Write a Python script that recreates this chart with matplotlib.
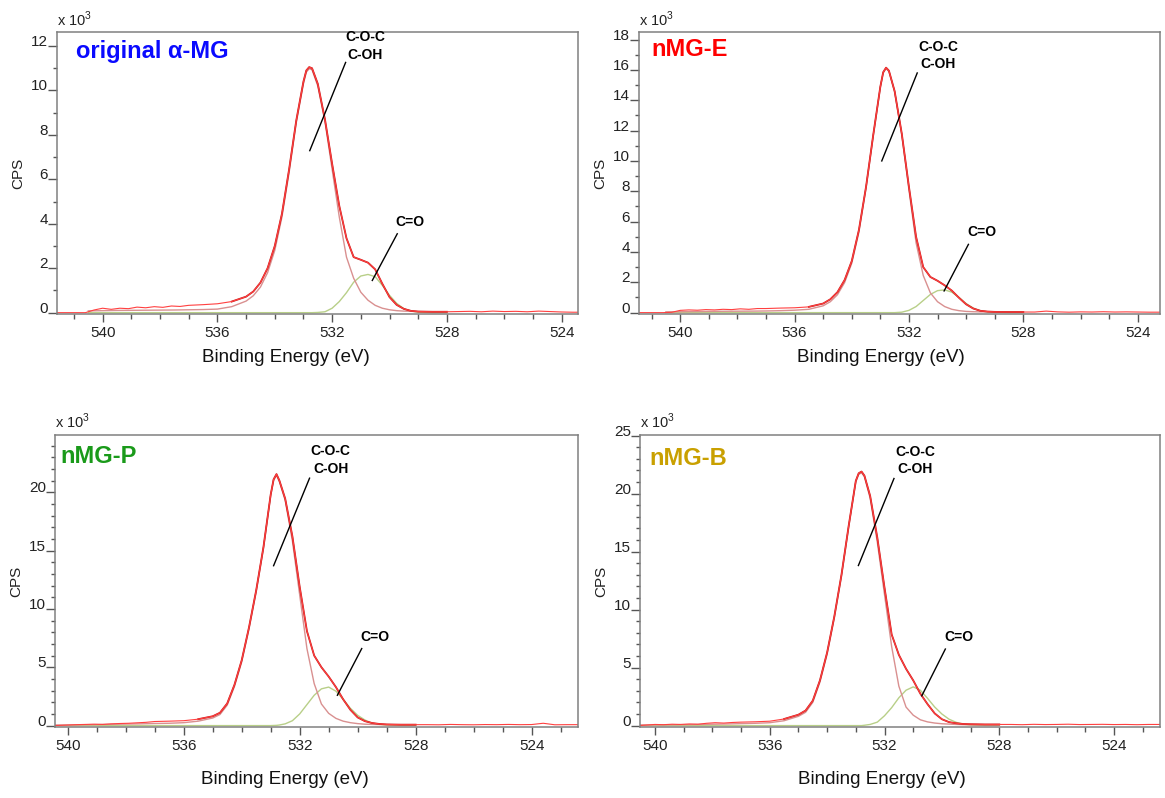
import numpy as np
import matplotlib.pyplot as plt
from matplotlib.ticker import MultipleLocator

plt.rcParams['font.family'] = ['Liberation Sans', 'DejaVu Sans']
plt.rcParams['mathtext.fontset'] = 'custom'
plt.rcParams['mathtext.rm'] = 'Liberation Sans'

# binding energy grid of the peak fit (eV)
fit_be = [540.5, 539.5, 538.5, 537.5, 537.0, 536.5, 536.0, 535.5, 535.0, 534.75,
          534.5, 534.25, 534.0, 533.75, 533.5, 533.25, 533.0, 532.9, 532.8, 532.7,
          532.5, 532.25, 532.0, 531.75, 531.5, 531.25, 531.0, 530.75, 530.5, 530.25,
          530.0, 529.75, 529.5, 529.25, 529.0, 528.5, 528.0]
# raw data outside the fit region
raw_left_be = [541.6, 540.6, 540.3, 540.0, 539.7, 539.4, 539.1, 538.8, 538.5, 538.2, 537.9, 537.6, 537.3]
raw_right_be = [527.6, 527.2, 526.8, 526.4, 526.0, 525.6, 525.2, 524.8, 524.4, 524.0, 523.6, 523.2, 522.8, 522.4]

# original a-MG (CPS x 10^3)
orig_env = [0.12, 0.18, 0.23, 0.30, 0.33, 0.36, 0.40, 0.50, 0.72, 0.95,
            1.35, 2.0, 3.0, 4.45, 6.45, 8.65, 10.4, 10.9, 11.05, 11.0,
            10.3, 8.7, 6.7, 4.8, 3.35, 2.5, 2.38, 2.25, 1.95, 1.3,
            0.7, 0.35, 0.17, 0.08, 0.05, 0.04, 0.04]
orig_coc = [0.08, 0.10, 0.11, 0.12, 0.13, 0.14, 0.16, 0.27, 0.52, 0.76,
            1.15, 1.8, 2.8, 4.3, 6.3, 8.55, 10.3, 10.82, 10.98, 10.93,
            10.2, 8.6, 6.45, 4.3, 2.5, 1.55, 0.92, 0.56, 0.33, 0.2,
            0.13, 0.09, 0.07, 0.06, 0.05, 0.04, 0.04]
orig_co = [0.0, 0.0, 0.0, 0.0, 0.0, 0.0, 0.0, 0.0, 0.0, 0.0,
           0.0, 0.0, 0.0, 0.0, 0.0, 0.0, 0.0, 0.0, 0.0, 0.0,
           0.01, 0.04, 0.2, 0.5, 0.9, 1.37, 1.65, 1.72, 1.62, 1.23,
           0.78, 0.42, 0.18, 0.07, 0.02, 0.0, 0.0]
orig_raw_l = [0.0, 0.0, 0.12, 0.2, 0.15, 0.2, 0.18, 0.25, 0.22, 0.27, 0.24, 0.3, 0.28]
orig_raw_r = [0.05, 0.06, 0.04, 0.07, 0.05, 0.06, 0.04, 0.07, 0.05, 0.03, 0.02, 0.02, 0.02, 0.02]

# nMG-E
e_env = [0.10, 0.17, 0.21, 0.25, 0.27, 0.30, 0.32, 0.38, 0.60, 0.88,
         1.35, 2.15, 3.4, 5.45, 8.3, 11.7, 14.9, 15.85, 16.15, 15.95,
         14.6, 11.8, 8.3, 5.0, 3.0, 2.35, 2.1, 1.8, 1.45, 0.98,
         0.55, 0.27, 0.12, 0.07, 0.05, 0.04, 0.04]
e_coc = [0.05, 0.07, 0.09, 0.10, 0.11, 0.13, 0.16, 0.22, 0.45, 0.72,
         1.18, 1.98, 3.25, 5.3, 8.2, 11.6, 14.85, 15.8, 16.1, 15.9,
         14.55, 11.7, 8.1, 4.6, 2.45, 1.3, 0.72, 0.4, 0.22, 0.13,
         0.08, 0.06, 0.05, 0.05, 0.04, 0.04, 0.04]
e_co = [0.0, 0.0, 0.0, 0.0, 0.0, 0.0, 0.0, 0.0, 0.0, 0.0,
        0.0, 0.0, 0.0, 0.0, 0.0, 0.0, 0.0, 0.0, 0.0, 0.0,
        0.0, 0.03, 0.15, 0.4, 0.8, 1.2, 1.45, 1.5, 1.35, 1.0,
        0.6, 0.3, 0.12, 0.05, 0.02, 0.0, 0.0]
e_raw_l = [0.0, 0.0, 0.02, 0.15, 0.18, 0.16, 0.2, 0.18, 0.22, 0.2, 0.25, 0.22, 0.27]
e_raw_r = [0.04, 0.1, 0.05, 0.03, 0.05, 0.04, 0.06, 0.04, 0.05, 0.04, 0.03, 0.03, 0.03, 0.03]

# nMG-P
p_env = [0.05, 0.12, 0.20, 0.30, 0.35, 0.38, 0.42, 0.55, 0.80, 1.1,
         1.9, 3.5, 5.6, 8.4, 11.6, 15.3, 19.8, 21.1, 21.55, 21.0,
         19.45, 16.2, 11.9, 8.1, 6.0, 5.0, 4.2, 3.3, 2.25, 1.35,
         0.7, 0.38, 0.22, 0.14, 0.1, 0.08, 0.08]
p_coc = [0.04, 0.07, 0.11, 0.15, 0.18, 0.20, 0.25, 0.38, 0.65, 0.95,
         1.75, 3.35, 5.45, 8.25, 11.45, 15.15, 19.7, 21.0, 21.45, 20.9,
         19.3, 15.8, 11.2, 6.6, 3.6, 1.85, 1.05, 0.62, 0.38, 0.25,
         0.17, 0.12, 0.1, 0.09, 0.08, 0.07, 0.07]
p_co = [0.0, 0.0, 0.0, 0.0, 0.0, 0.0, 0.0, 0.0, 0.0, 0.0,
        0.0, 0.0, 0.0, 0.0, 0.0, 0.0, 0.0, 0.01, 0.02, 0.05,
        0.15, 0.42, 1.0, 1.8, 2.6, 3.15, 3.3, 2.95, 2.25, 1.48,
        0.88, 0.48, 0.2, 0.1, 0.05, 0.02, 0.02]
p_raw_l = [0.0, 0.0, 0.02, 0.05, 0.08, 0.1, 0.12, 0.1, 0.15, 0.18, 0.2, 0.24, 0.28]
p_raw_r = [0.08, 0.07, 0.1, 0.08, 0.07, 0.09, 0.08, 0.1, 0.08, 0.09, 0.2, 0.07, 0.08, 0.08]

# nMG-B
b_env = [0.08, 0.12, 0.18, 0.25, 0.30, 0.33, 0.38, 0.57, 0.94, 1.3,
         2.15, 3.9, 6.3, 9.4, 13.0, 17.2, 21.1, 21.75, 21.9, 21.55,
         19.8, 16.2, 11.9, 7.85, 6.1, 4.9, 3.9, 2.75, 1.85, 1.05,
         0.55, 0.3, 0.2, 0.14, 0.12, 0.1, 0.1]
b_coc = [0.05, 0.07, 0.10, 0.14, 0.17, 0.20, 0.25, 0.42, 0.80, 1.15,
         2.0, 3.75, 6.15, 9.25, 12.85, 17.05, 21.0, 21.65, 21.8, 21.45,
         19.6, 15.8, 11.3, 6.8, 3.4, 1.6, 0.9, 0.5, 0.32, 0.22,
         0.16, 0.13, 0.1, 0.08, 0.07, 0.06, 0.06]
b_co = [0.0, 0.0, 0.0, 0.0, 0.0, 0.0, 0.0, 0.0, 0.0, 0.0,
        0.0, 0.0, 0.0, 0.0, 0.0, 0.0, 0.0, 0.0, 0.0, 0.03,
        0.1, 0.3, 0.85, 1.55, 2.4, 3.05, 3.34, 3.05, 2.35, 1.6,
        1.0, 0.55, 0.28, 0.12, 0.05, 0.02, 0.02]
b_raw_l = [0.0, 0.0, 0.05, 0.1, 0.08, 0.12, 0.1, 0.14, 0.12, 0.2, 0.25, 0.22, 0.27]
b_raw_r = [0.1, 0.08, 0.11, 0.09, 0.1, 0.12, 0.09, 0.1, 0.11, 0.09, 0.1, 0.08, 0.1, 0.1]

W, H = 1165, 798
fig = plt.figure(figsize=(W / 100, H / 100), dpi=100)

panels = [
    dict(name='original α-MG', color='#0a0aff', env=orig_env, coc=orig_coc, co=orig_co,
         raw_l=orig_raw_l, raw_r=orig_raw_r, box=(57, 32, 578, 314),
         xlim=(541.59, 523.43), ylim=(-0.06, 12.63), ystep=2, name_xy=(0.036, 0.93),
         coc_txt=(530.84, 12.0), coc_line=((531.53, 532.78), (11.26, 7.29)),
         co_txt=(529.3, 4.1), co_line=((529.73, 530.6), (3.55, 1.45)), xlab_y=-0.156),
    dict(name='nMG-E', color='#ff0000', env=e_env, coc=e_coc, co=e_co,
         raw_l=e_raw_l, raw_r=e_raw_r, box=(639, 32, 1160, 314),
         xlim=(541.44, 523.22), ylim=(-0.09, 18.5), ystep=2, name_xy=(0.023, 0.937),
         coc_txt=(530.99, 16.95), coc_line=((531.71, 532.95), (15.8, 10.0)),
         co_txt=(529.46, 5.34), co_line=((529.92, 530.77), (4.5, 1.43)), xlab_y=-0.156),
    dict(name='nMG-P', color='#1a9a1a', env=p_env, coc=p_coc, co=p_co,
         raw_l=p_raw_l, raw_r=p_raw_r, box=(55, 435, 578, 727),
         xlim=(540.44, 522.4), ylim=(-0.12, 24.9), ystep=5, name_xy=(0.011, 0.926),
         coc_txt=(530.93, 22.75), coc_line=((531.66, 532.9), (21.2, 13.7)),
         co_txt=(529.41, 7.6), co_line=((529.86, 530.7), (6.6, 2.6)), xlab_y=-0.18),
    dict(name='nMG-B', color='#c9a000', env=b_env, coc=b_coc, co=b_co,
         raw_l=b_raw_l, raw_r=b_raw_r, box=(640, 435, 1160, 727),
         xlim=(540.52, 522.4), ylim=(-0.12, 25.05), ystep=5, name_xy=(0.018, 0.918),
         coc_txt=(530.93, 22.85), coc_line=((531.67, 532.91), (21.3, 13.8)),
         co_txt=(529.42, 7.6), co_line=((529.88, 530.7), (6.6, 2.57)), xlab_y=-0.18),
]

be = np.array(fit_be)
inner = be <= 537.0
fit_part = be <= 535.5

for p in panels:
    l, t, r, b = p['box']
    ax = fig.add_axes([l / W, 1 - b / H, (r - l) / W, (b - t) / H])
    env = np.array(p['env'])
    raw_x = np.concatenate([raw_left_be, be[inner], raw_right_be])
    raw_y = np.concatenate([p['raw_l'], env[inner], p['raw_r']])

    # components, envelope, raw counts
    ax.plot(be, p['co'], color='#b8cf88', lw=1.0)
    ax.plot(be, p['coc'], color='#d99090', lw=1.0)
    ax.plot(be[fit_part], env[fit_part], color='#c41a1a', lw=1.3)
    ax.plot(raw_x, raw_y, color='#ff4040', lw=0.8)

    ax.set_xlim(*p['xlim'])
    ax.set_ylim(*p['ylim'])
    ax.xaxis.set_major_locator(MultipleLocator(4))
    ax.xaxis.set_minor_locator(MultipleLocator(1))
    ax.yaxis.set_major_locator(MultipleLocator(p['ystep']))
    ax.yaxis.set_minor_locator(MultipleLocator(1))
    ax.tick_params(axis='x', which='major', length=6, width=1, color='#555555',
                   labelsize=11, labelcolor='#222222', pad=3)
    ax.tick_params(axis='x', which='minor', length=3.5, width=1, color='#555555')
    ax.tick_params(axis='y', which='major', length=6.5, width=1, color='#555555',
                   labelsize=11, labelcolor='#222222', pad=0)
    ax.tick_params(axis='y', which='minor', length=3, width=1, color='#555555')
    plt.setp(ax.get_yticklabels(), va='baseline')
    for s in ax.spines.values():
        s.set_color('#808080')
        s.set_linewidth(1.1)

    ax.set_xlabel('Binding Energy (eV)', fontsize=13.5, color='#111111')
    ax.xaxis.label.set_va('center')
    ax.xaxis.set_label_coords(0.44 if l < 100 else 0.465, p['xlab_y'])
    ax.set_ylabel('CPS', fontsize=11, color='#222222')
    ax.yaxis.label.set_va('center')
    ax.yaxis.set_label_coords(-0.075, 0.5)

    ax.text(0, 1.012, r'x 10$^3$', transform=ax.transAxes, fontsize=10.5,
            color='#222222', ha='left', va='bottom')
    ax.text(*p['name_xy'], p['name'], transform=ax.transAxes, color=p['color'],
            fontsize=17, fontweight='bold', ha='left', va='center')

    ax.text(*p['coc_txt'], 'C-O-C\nC-OH', ha='center', va='center', fontsize=10,
            fontweight='bold', linespacing=1.3)
    ax.plot(*p['coc_line'], color='black', lw=1)
    ax.text(*p['co_txt'], 'C=O', ha='center', va='center', fontsize=10, fontweight='bold')
    ax.plot(*p['co_line'], color='black', lw=1)

fig.savefig('out.png', dpi=100)
